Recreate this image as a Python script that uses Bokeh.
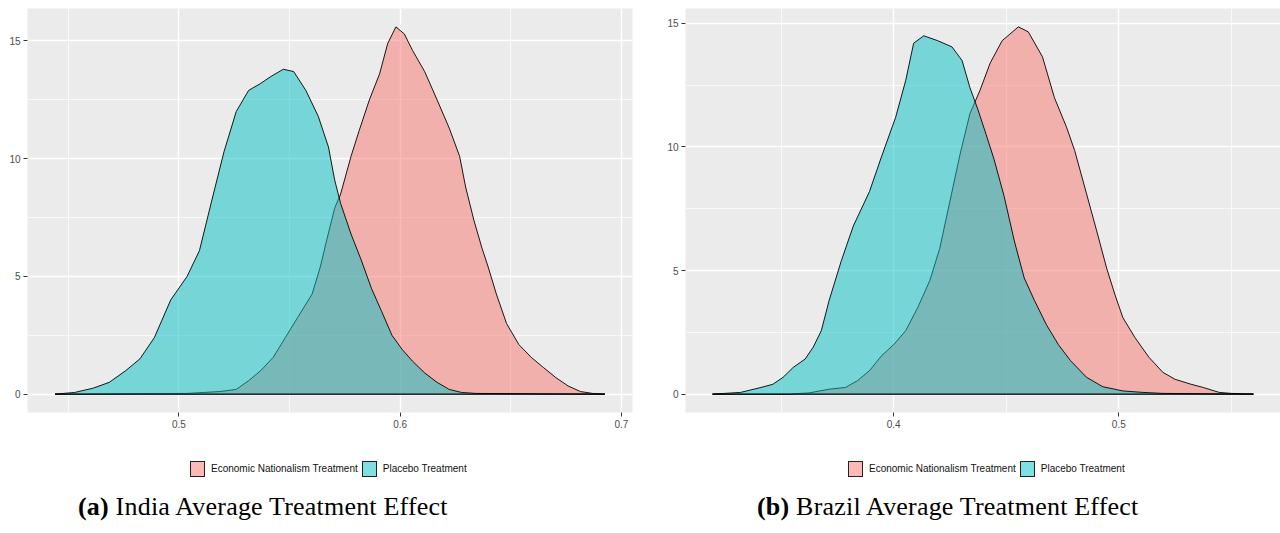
from bokeh.plotting import figure
from bokeh.layouts import row, column
from bokeh.models import Range1d, FixedTicker, Div
from bokeh.embed import file_html
from bokeh.resources import INLINE

# ---------------- data ----------------
series_names = ["Economic Nationalism Treatment", "Placebo Treatment"]
captions_tag = ["(a)", "(b)"]
captions_text = ["India Average Treatment Effect", "Brazil Average Treatment Effect"]

india_econ_x = [0.444, 0.5037, 0.511, 0.5185, 0.5259, 0.5315, 0.537, 0.5426, 0.5481, 0.5537,
                0.5602, 0.5639, 0.5667, 0.5704, 0.5731, 0.5778, 0.5815, 0.5861, 0.5907, 0.5944,
                0.5981, 0.6019, 0.6056, 0.6111, 0.6167, 0.6222, 0.6269, 0.6296, 0.6333, 0.637,
                0.6398, 0.6435, 0.6481, 0.6537, 0.6593, 0.6648, 0.6704, 0.6759, 0.6815, 0.687, 0.6926]
india_econ_y = [0, 0.03, 0.07, 0.11, 0.2, 0.57, 1.0, 1.56, 2.4, 3.26,
                4.25, 5.4, 6.5, 7.9, 8.5, 10.1, 11.2, 12.5, 13.6, 14.9,
                15.6, 15.3, 14.6, 13.7, 12.5, 11.3, 10.1, 8.8, 7.4, 6.2,
                5.4, 4.25, 3.0, 2.1, 1.56, 1.13, 0.7, 0.35, 0.11, 0.03, 0]

india_placebo_x = [0.444, 0.4528, 0.4611, 0.4685, 0.476, 0.4824, 0.4889, 0.4963, 0.5037, 0.5093,
                   0.5148, 0.5204, 0.5259, 0.5315, 0.537, 0.5417, 0.5472, 0.5519, 0.5574, 0.563,
                   0.5676, 0.5704, 0.5731, 0.5778, 0.5824, 0.587, 0.5917, 0.5963, 0.6009, 0.6056,
                   0.6111, 0.6167, 0.6222, 0.6278, 0.6343, 0.6926]
india_placebo_y = [0, 0.07, 0.25, 0.5, 1.0, 1.5, 2.4, 4.0, 5.0, 6.1,
                   8.2, 10.3, 12.0, 12.9, 13.2, 13.5, 13.8, 13.7, 12.9, 11.8,
                   10.5, 9.1, 8.1, 6.8, 5.7, 4.5, 3.5, 2.5, 1.9, 1.4,
                   0.9, 0.5, 0.2, 0.07, 0.03, 0]

brazil_econ_x = [0.3196, 0.3536, 0.3625, 0.3714, 0.3786, 0.3839, 0.3893, 0.3946, 0.4, 0.4054,
                 0.4107, 0.4161, 0.4205, 0.425, 0.4295, 0.4339, 0.4384, 0.4429, 0.4482, 0.4554,
                 0.4598, 0.4661, 0.4714, 0.4768, 0.4804, 0.4857, 0.4902, 0.4946, 0.4982, 0.5018,
                 0.5071, 0.5134, 0.5196, 0.525, 0.5321, 0.5375, 0.5446, 0.55, 0.5598]
brazil_econ_y = [0, 0, 0.05, 0.2, 0.27, 0.54, 0.95, 1.55, 2.0, 2.57,
                 3.5, 4.6, 5.9, 7.8, 9.7, 11.35, 12.3, 13.4, 14.3, 14.86,
                 14.66, 13.65, 12.0, 10.8, 9.86, 8.1, 6.6, 5.1, 4.05, 3.1,
                 2.3, 1.49, 0.88, 0.6, 0.4, 0.27, 0.07, 0.03, 0]

brazil_placebo_x = [0.3196, 0.332, 0.3411, 0.3464, 0.3509, 0.3554, 0.3607, 0.3643, 0.3679, 0.3714,
                    0.3768, 0.3821, 0.3893, 0.3946, 0.4009, 0.4054, 0.4089, 0.4134, 0.4196, 0.4259,
                    0.4304, 0.4339, 0.4375, 0.4411, 0.4446, 0.4491, 0.4536, 0.458, 0.4625, 0.4679,
                    0.4732, 0.4786, 0.4857, 0.4929, 0.5018, 0.5107, 0.5196, 0.5598]
brazil_placebo_y = [0, 0.07, 0.27, 0.4, 0.68, 1.08, 1.42, 1.9, 2.57, 3.8,
                    5.4, 6.8, 8.2, 9.6, 11.2, 12.7, 14.2, 14.5, 14.3, 14.05,
                    13.5, 12.4, 11.5, 10.5, 9.5, 8.0, 6.2, 4.7, 3.8, 2.8,
                    2.0, 1.35, 0.68, 0.3, 0.13, 0.07, 0.03, 0]

india_xticks = [0.5, 0.6, 0.7]
india_xminor = [0.45, 0.55, 0.65]
brazil_xticks = [0.4, 0.5]
brazil_xminor = [0.35, 0.45, 0.55]
yticks = [0, 5, 10, 15]
yminor = [2.5, 7.5, 12.5]

RED = "#F8766D"
CYAN = "#00BFC4"
RED_KEY = "rgba(248,118,109,0.5)"
CYAN_KEY = "rgba(0,191,196,0.5)"


def expand(lo, hi, frac=0.05):
    r = hi - lo
    return lo - frac * r, hi + frac * r


def panel(ex, ey, px, py, xticks, xminor, left, right):
    x0, x1 = expand(min(ex + px), max(ex + px))
    y0, y1 = expand(0, max(ey + py))
    p = figure(width=640, height=440,
               min_border_left=left, min_border_right=right,
               min_border_top=8, min_border_bottom=28,
               x_range=Range1d(x0, x1), y_range=Range1d(y0, y1),
               output_backend="svg", toolbar_location=None)
    p.background_fill_color = "#EBEBEB"
    p.border_fill_color = "white"
    p.outline_line_color = None

    for ax in (p.xaxis[0], p.yaxis[0]):
        ax.axis_line_color = None
        ax.major_tick_out = 4
        ax.major_tick_in = 0
        ax.major_tick_line_color = "#333333"
        ax.major_tick_line_width = 1
        ax.minor_tick_line_color = None
        ax.major_label_text_color = "#4D4D4D"
        ax.major_label_text_font = "Liberation Sans"
        ax.major_label_text_font_size = "10px"
        ax.major_label_standoff = 3
    p.xaxis.ticker = FixedTicker(ticks=xticks, minor_ticks=xminor)
    p.yaxis.ticker = FixedTicker(ticks=yticks, minor_ticks=yminor)

    for g in (p.xgrid[0], p.ygrid[0]):
        g.grid_line_color = "white"
        g.grid_line_width = 1.4
        g.minor_grid_line_color = "white"
        g.minor_grid_line_width = 0.7

    p.patch(ex, ey, fill_color=RED, fill_alpha=0.5, line_color="black", line_width=0.9)
    p.patch(px, py, fill_color=CYAN, fill_alpha=0.5, line_color="black", line_width=0.9)
    return p


def footer(tag, text, legend_left, cap_left):
    box = ('display:inline-block; width:15px; height:16px; border:1px solid #222; '
           'background:{c}; vertical-align:middle;')
    lab = ('display:inline-block; vertical-align:middle; margin:0 4px 0 6px; '
           'font-family:\'Liberation Sans\', Arial, sans-serif; font-size:10px; color:#111;')
    legend_html = (f'<div style="position:absolute; left:{legend_left}px; top:19px; '
                   f'white-space:nowrap; line-height:18px; height:18px;">'
                   f'<span style="{box.format(c=RED_KEY)}"></span>'
                   f'<span style="{lab}">{series_names[0]}</span>'
                   f'<span style="{box.format(c=CYAN_KEY)}"></span>'
                   f'<span style="{lab}">{series_names[1]}</span></div>')
    cap_html = (f'<div style="position:absolute; left:{cap_left}px; top:53px; white-space:nowrap; '
                f'font-family:\'Liberation Serif\', serif; font-size:26px; line-height:27px; '
                f'letter-spacing:0.2px; color:#000;">'
                f'<b>{tag}</b> {text}</div>')
    return Div(text=f'<div style="position:relative; width:640px; height:93px;">{legend_html}{cap_html}</div>',
               width=640, height=93, margin=0)


pA = panel(india_econ_x, india_econ_y, india_placebo_x, india_placebo_y,
           india_xticks, india_xminor, 27, 8)
pB = panel(brazil_econ_x, brazil_econ_y, brazil_placebo_x, brazil_placebo_y,
           brazil_xticks, brazil_xminor, 45, 0)

fA = footer(captions_tag[0], captions_text[0], 190, 78)
fB = footer(captions_tag[1], captions_text[1], 208, 117)

layout = column(row(pA, pB), row(fA, fB))
open("out.html", "w").write(file_html(layout, INLINE))
